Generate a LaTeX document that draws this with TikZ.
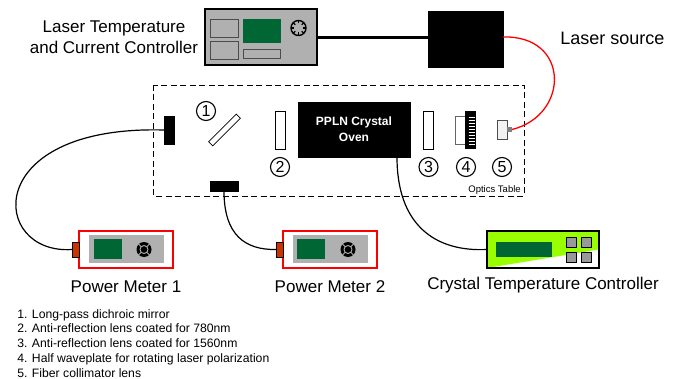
\documentclass[tikz,border=0pt]{standalone}
\usepackage{fontspec}
\setmainfont{Liberation Sans}
\usetikzlibrary{positioning, calc}
\definecolor{panelgray}{HTML}{B0B0B0}
\definecolor{screengreen}{HTML}{006633}
\definecolor{plugred}{HTML}{CC3300}
\definecolor{limegreen}{HTML}{99FF00}

\begin{document}
\begin{tikzpicture}
            [x=1pt, y=-1pt, semithick,
            box/.style={rectangle, draw=black, inner sep=0pt, outer sep=0pt},
            blackbox/.style={box, fill=black},
            lens/.style={box, line width=0.7pt, fill=white, minimum width=10pt, minimum height=38pt},
            screen/.style={rectangle, fill=screengreen, inner sep=0pt, outer sep=0pt},
            panel/.style={rectangle, fill=panelgray, inner sep=0pt, outer sep=0pt, minimum width=75pt, minimum height=28pt},
            redframe/.style={rectangle, draw=red, line width=1.3pt, inner sep=0pt, outer sep=0pt, minimum width=94pt, minimum height=37pt},
            plug/.style={box, fill=plugred, line width=0.8pt, minimum width=7pt, minimum height=15pt},
            key/.style={box, fill=gray!80, line width=0.9pt, minimum width=10pt, minimum height=10pt},
            number/.style={circle, draw=black, line width=1.1pt, inner sep=0pt, minimum size=19pt, font=\fontsize{16}{16}\selectfont},
            title/.style={font=\fontsize{17}{21}\selectfont, align=center, inner sep=0pt},
            fiber/.style={line width=1.2pt, draw=black}]
            \useasboundingbox (0,0) rectangle (682,379);

            % optics table
            \draw[dashed, line width=0.8pt, dash pattern=on 6pt off 3.5pt] (153,85) rectangle (524,196);
            \node[font=\fontsize{9.5}{11}\selectfont, anchor=east, inner sep=0pt] (tablelabel) at (521,190) {Optics Table};

            % laser controller
            \node[box, fill=panelgray, line width=1.2pt, minimum width=112pt, minimum height=56pt] (controller) at (261,37) {};
            \node[box, fill=panelgray, draw=black!70, line width=0.8pt, minimum width=28pt, minimum height=18pt] (ctrlkeyone) at (224,28) {};
            \node[box, fill=panelgray, draw=black!70, line width=0.8pt, minimum width=28pt, minimum height=18pt] (ctrlkeytwo) at (224,50) {};
            \node[screen, minimum width=38pt, minimum height=24pt] (ctrlscreen) at (262,31) {};
            \node[box, fill=panelgray, draw=black!70, line width=0.8pt, minimum width=37pt, minimum height=9pt] (ctrlslot) at (261.5,53.5) {};
            \node[circle, draw=black, line width=1.4pt, inner sep=0pt, minimum size=15pt] (ctrlknob) at (298.5,28) {};
            \foreach \a in {0,45,...,315}
                \draw[line width=1.1pt] (ctrlknob.center) ++(\a:4.5) -- ++(\a:3);

            % laser and crystal oven
            \node[blackbox, minimum width=75pt, minimum height=56pt] (laser) at (465.5,39) {};
            \node[blackbox, minimum width=112pt, minimum height=55pt, text=white, align=center, font=\fontsize{12}{16}\selectfont\bfseries] (oven) at (354,129.5) {PPLN Crystal\\Oven};

            % optics
            \node[blackbox, minimum width=10pt, minimum height=28pt] (blockone) at (169,130) {};
            \node[blackbox, minimum width=28pt, minimum height=10pt] (blocktwo) at (224,186) {};
            \node[box, line width=0.7pt, fill=white, minimum width=39pt, minimum height=6pt, rotate=45] (mirror) at (224.5,130) {};
            \node[lens] (lenstwo) at (280,130) {};
            \node[lens] (lensthree) at (428.5,130) {};
            \node[box, draw=black!60, line width=0.8pt, fill=white, minimum width=10pt, minimum height=28pt] (plate) at (460.5,130) {};
            \node[blackbox, minimum width=10pt, minimum height=37pt] (platemount) at (470,129.5) {};
            \foreach \y in {117,120,...,144}
                \draw[white, line width=0.8pt] (468.5,\y) -- (475,\y);
            \node[box, draw=black!70, line width=0.7pt, fill=gray!10, minimum width=10pt, minimum height=19pt] (collimator) at (502,129.5) {};
            \node[rectangle, fill=gray, inner sep=0pt, outer sep=0pt, minimum width=5pt, minimum height=5pt] (tip) at (509.5,129.5) {};

            \node[number] (nOne) at (206,111) {1};
            \node[number] (nTwo) at (280,167) {2};
            \node[number] (nThree) at (428.5,167) {3};
            \node[number] (nFour) at (466,167) {4};
            \node[number] (nFive) at (502,167) {5};

            % power meters
            \node[redframe] (meterone) at (126,249.5) {};
            \node[panel] (panelone) at (126.5,249) {};
            \node[screen, minimum width=28pt, minimum height=20pt] (screenone) at (108,249) {};
            \node[circle, fill=black, inner sep=0pt, minimum size=15pt] (knobone) at (144,249.5) {};
            \node[circle, draw=panelgray, line width=0.9pt, inner sep=0pt, minimum size=8pt] (knobonein) at (144,249.5) {};
            \foreach \a in {45,135,225,315}
                \draw[panelgray, line width=0.8pt] (knobone.center) ++(\a:4) -- ++(\a:4);
            \node[plug] (plugone) at (75.5,249.5) {};

            \node[redframe] (metertwo) at (330,249.5) {};
            \node[panel] (paneltwo) at (330.5,249) {};
            \node[screen, minimum width=28pt, minimum height=20pt] (screentwo) at (311,249) {};
            \node[circle, fill=black, inner sep=0pt, minimum size=15pt] (knobtwo) at (348,249.5) {};
            \node[circle, draw=panelgray, line width=0.9pt, inner sep=0pt, minimum size=8pt] (knobtwoin) at (348,249.5) {};
            \foreach \a in {45,135,225,315}
                \draw[panelgray, line width=0.8pt] (knobtwo.center) ++(\a:4) -- ++(\a:4);
            \node[plug] (plugtwo) at (279.5,249.5) {};

            % crystal controller
            \node[box, fill=white, line width=1.2pt, minimum width=112pt, minimum height=37pt] (crystal) at (543,249.5) {};
            \fill[limegreen] (crystal.north west) -- (crystal.north east) -- ($(crystal.north east)!0.5!(crystal.south east)$) -- (crystal.south west) -- cycle;
            \draw[line width=1.2pt] (crystal.north west) rectangle (crystal.south east);
            \node[screen, minimum width=56pt, minimum height=15pt] (crystalscreen) at (524,249.5) {};
            \node[key] (keya) at (571,242) {};
            \node[key] (keyb) at (586,242) {};
            \node[key] (keyc) at (571,257) {};
            \node[key] (keyd) at (586,257) {};

            % cables
            \draw[line width=3.4pt] (controller.east) ++(0,0.5) -- (laser.west |- 317,37.5);
            \draw[red, line width=1.3pt] (laser.east) ++(0,-2) .. controls (570,35) and (570,115) .. (tip.east);
            \draw[fiber] (blockone.west) .. controls (-20,125) and (-10,255) .. (plugone.west);
            \draw[fiber] (blocktwo.south) .. controls (224,235) and (245,250) .. (plugtwo.west);
            \draw[fiber] (oven.south -| 397,157) .. controls (397,225) and (435,252) .. (crystal.west);

            % labels
            \node[title] (lbcontroller) at (114,37.5) {Laser Temperature\\and Current Controller};
            \node[title, anchor=west, font=\fontsize{18}{21}\selectfont] (lblaser) at (560,38) {Laser source};
            \node[title] (lbmeterone) at (126,287) {Power Meter 1};
            \node[title] (lbmetertwo) at (330,287) {Power Meter 2};
            \node[title] (lbcrystal) at (543,285) {Crystal Temperature Controller};
            \node[anchor=north west, align=left, inner sep=0pt, font=\fontsize{12.2}{14.8}\selectfont] (notes) at (17,309)
            {1. Long-pass dichroic mirror\\
             2. Anti-reflection lens coated for 780nm\\
             3. Anti-reflection lens coated for 1560nm\\
             4. Half waveplate for rotating laser polarization\\
             5. Fiber collimator lens};
        \end{tikzpicture}
\end{document}
